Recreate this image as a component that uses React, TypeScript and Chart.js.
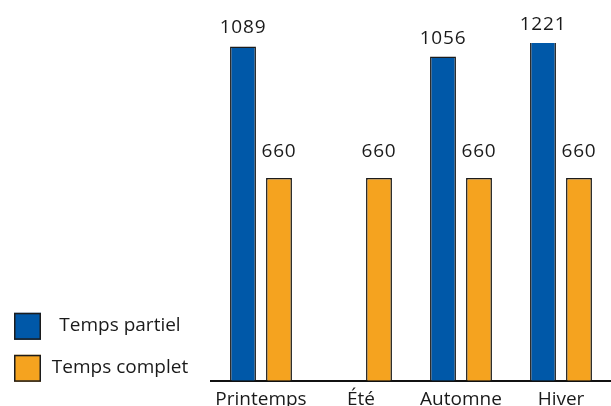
import { useEffect, useRef } from "react";
import { Chart, registerables } from "chart.js";

Chart.register(...registerables);

// Seasons on the category axis
const seasons = ["Printemps", "Été", "Automne", "Hiver"];
// Series names
const partTimeLabel = "Temps partiel";
const fullTimeLabel = "Temps complet";
// Values per season (no part-time figure for summer)
const partTime: (number | null)[] = [1089, null, 1056, 1221];
const fullTime: (number | null)[] = [660, 660, 660, 660];
// Upper bound of the value axis; taller bars are cut at the top of the plot
const axisMax = 1100;

const BLUE = "#0058A8";
const ORANGE = "#F5A31F";
const EDGE = "#1c1c1c";
const INK = "#1a1a1a";
const FONT = "'Open Sans', 'Noto Sans', sans-serif";
// Space between a bar top and the baseline of its value label, per series
const LABEL_GAPS = [13, 21];

const valueLabels = {
  id: "valueLabels",
  afterDatasetsDraw(chart: any) {
    const { ctx, chartArea } = chart;
    ctx.save();
    ctx.font = `19px ${FONT}`;
    ctx.fillStyle = INK;
    ctx.textAlign = "center";
    ctx.textBaseline = "alphabetic";
    (ctx as any).letterSpacing = "0.8px";
    chart.data.datasets.forEach((ds: any, i: number) => {
      const meta = chart.getDatasetMeta(i);
      meta.data.forEach((bar: any, j: number) => {
        const v = ds.data[j];
        if (v == null) return;
        const top = Math.max(bar.y, chartArea.top);
        ctx.fillText(String(v), bar.x, top - LABEL_GAPS[i]);
      });
    });
    ctx.restore();
  },
};

// Legend stacked in the lower-left corner, swatch on the left, name centred beside it
const sideLegend = {
  id: "sideLegend",
  afterDraw(chart: any) {
    const { ctx, chartArea } = chart;
    const n = chart.data.datasets.length;
    ctx.save();
    chart.data.datasets.forEach((ds: any, i: number) => {
      const boxTop = chartArea.bottom - 26 - (n - 1 - i) * 42;
      ctx.fillStyle = ds.backgroundColor;
      ctx.fillRect(14, boxTop, 27, 27);
      ctx.strokeStyle = EDGE;
      ctx.lineWidth = 1.5;
      ctx.strokeRect(14.75, boxTop + 0.75, 25.5, 25.5);
      ctx.fillStyle = INK;
      ctx.font = `19px ${FONT}`;
      ctx.textAlign = "center";
      ctx.textBaseline = "alphabetic";
      ctx.fillText(ds.label, 120, boxTop + 18.5);
    });
    ctx.restore();
  },
};

export default function App() {
  const canvasRef = useRef<HTMLCanvasElement | null>(null);

  useEffect(() => {
    if (!canvasRef.current) return;
    const chart = new Chart(canvasRef.current, {
      type: "bar",
      data: {
        labels: seasons,
        datasets: [
          {
            label: partTimeLabel,
            data: partTime,
            backgroundColor: BLUE,
            borderColor: EDGE,
            borderWidth: 1.5,
            clip: 0,
          } as any,
          {
            label: fullTimeLabel,
            data: fullTime,
            backgroundColor: ORANGE,
            borderColor: EDGE,
            borderWidth: 1.5,
            clip: 0,
          } as any,
        ],
      },
      options: {
        animation: false,
        responsive: true,
        maintainAspectRatio: false,
        layout: { padding: { left: 211, top: 43, right: 0, bottom: 0 } },
        datasets: { bar: { categoryPercentage: 0.72, barPercentage: 0.72 } },
        plugins: {
          legend: { display: false },
          tooltip: { enabled: false },
        },
        scales: {
          x: {
            grid: { display: false, drawTicks: false },
            border: { display: true, color: "#111111", width: 2 },
            ticks: {
              color: INK,
              font: { family: FONT, size: 19 },
              padding: 7.2,
              maxRotation: 0,
              autoSkip: false,
            },
          },
          y: { display: false, min: 0, max: axisMax },
        },
      },
      plugins: [valueLabels, sideLegend],
    });
    return () => chart.destroy();
  }, []);

  return (
    <div
      style={{
        position: "absolute",
        left: 0,
        top: 0,
        width: 611,
        height: 406,
        overflow: "hidden",
        background: "#ffffff",
      }}
    >
      <div style={{ position: "relative", width: 611, height: 418 }}>
        <canvas ref={canvasRef} />
      </div>
    </div>
  );
}
